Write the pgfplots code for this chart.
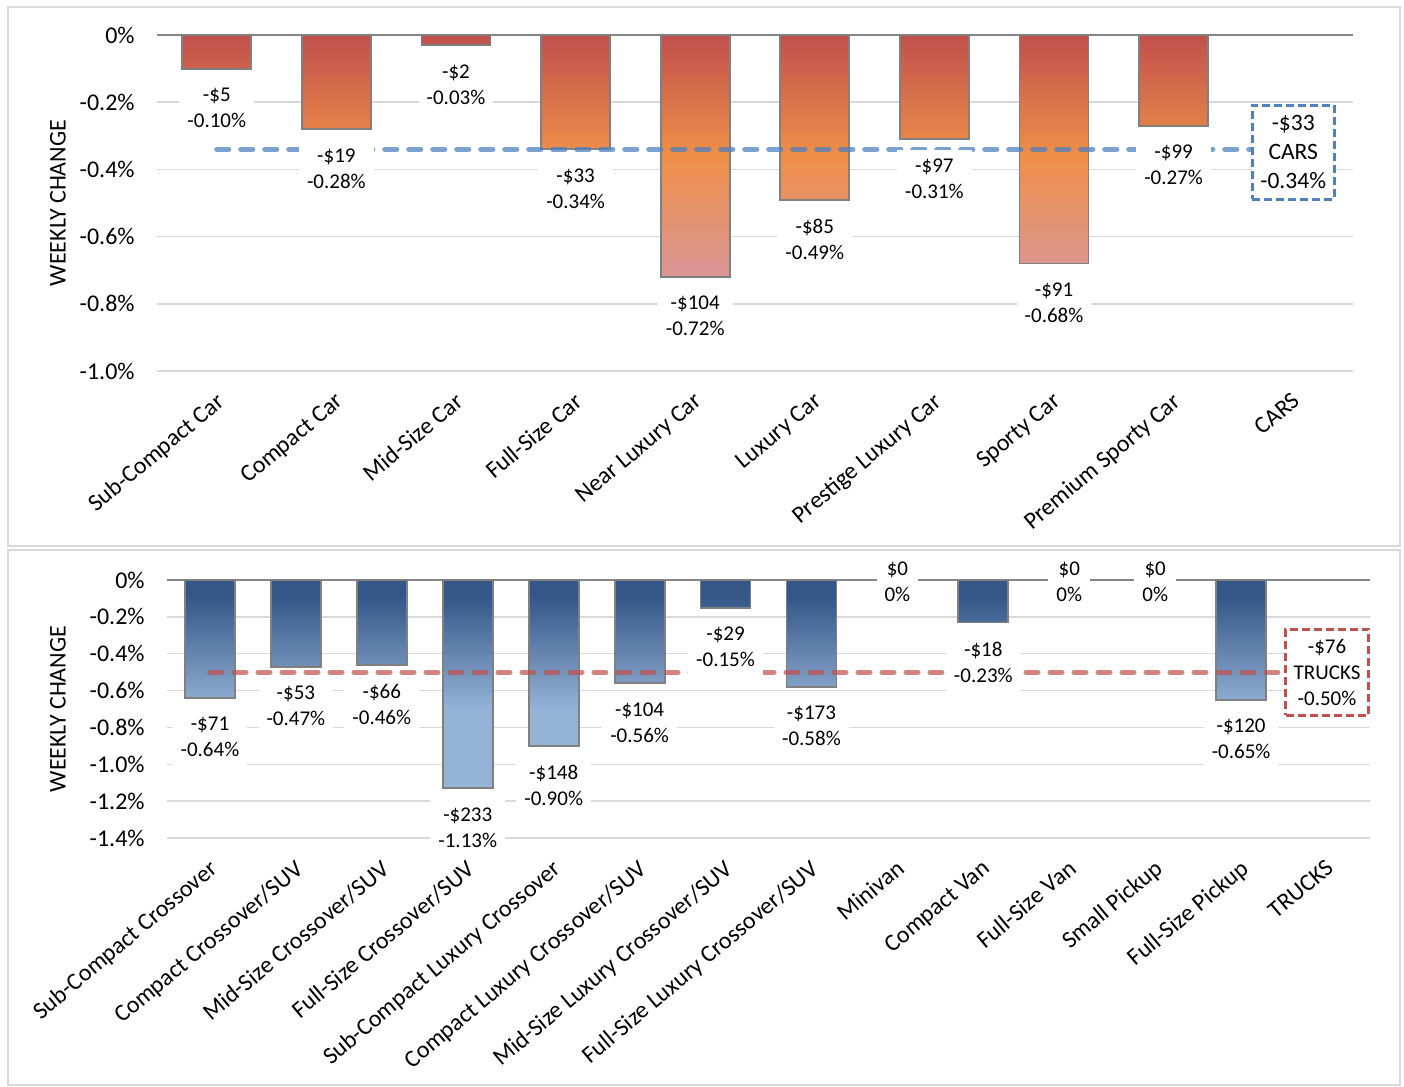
\documentclass[border=0pt]{standalone}
\usepackage{fontspec}
\setmainfont{Carlito}
\usepackage{pgfplots}
\pgfplotsset{compat=1.18}
\definecolor{carTop}{RGB}{192,80,77}
\definecolor{carMid}{RGB}{240,143,72}
\definecolor{carBot}{RGB}{217,150,150}
\definecolor{trkTop}{RGB}{52,87,136}
\definecolor{trkBot}{RGB}{149,179,215}
\definecolor{gridgray}{RGB}{217,217,217}
\definecolor{zerogray}{RGB}{134,134,134}
\definecolor{bargray}{RGB}{128,128,128}
\definecolor{framegray}{RGB}{217,217,217}
\definecolor{carline}{RGB}{79,129,189}
\definecolor{trkline}{RGB}{192,80,77}
\pgfdeclareverticalshading{trkshade}{100bp}{color(0bp)=(trkBot); color(25bp)=(trkBot); color(44bp)=(trkBot); color(71bp)=(trkTop); color(75bp)=(trkTop); color(100bp)=(trkTop)}
\newcommand{\tickfont}{\fontsize{12}{14.4}\selectfont}
\newcommand{\labfont}{\fontsize{10.5}{13}\selectfont}
\pgfplotsset{
  panel/.style={
    scale only axis, clip=false, enlargelimits=false,
    axis line style={draw=none}, tick style={draw=none},
    ymajorgrids, major grid style={gridgray, line width=0.75pt},
    extra y ticks={0}, extra y tick labels={0\%},
    extra y tick style={major grid style={zerogray, line width=0.8pt}},
    ticklabel style={font=\tickfont, text=black},
    yticklabel style={inner sep=0pt, xshift=-11pt},
    xticklabel style={inner sep=0pt, xshift=-1pt, yshift=-10pt, rotate=40, anchor=north east},
    ylabel={WEEKLY CHANGE},
  },
  barlab/.style={draw=none, mark=none, nodes near coords, point meta=explicit symbolic,
    every node near coord/.style={font=\labfont, text=black, align=center, fill=white,
      inner xsep=4pt, inner ysep=4.5pt, anchor=north, yshift=-5pt}},
  zerolab/.style={draw=none, mark=none, nodes near coords, point meta=explicit symbolic,
    every node near coord/.style={font=\labfont, text=black, align=center, fill=white,
      inner xsep=4pt, inner ysep=2pt, anchor=center, yshift=-1pt}},
}
\begin{document}
\begin{tikzpicture}[x=1pt,y=1pt]
\useasboundingbox (0,0) rectangle (702,-543.5);
\draw[framegray, line width=1pt] (4,-3.5) rectangle (700,-273);
\draw[framegray, line width=1pt] (4,-275) rectangle (700,-542.5);

% ---------------- CARS ----------------
\begin{axis}[panel,
  at={(78.5pt,-185.5pt)}, anchor=south west,
  width=598pt, height=168pt,
  xmin=-0.5, xmax=9.5, ymin=-1, ymax=0,
  ytick={-1,-0.8,-0.6,-0.4,-0.2},
  yticklabels={-1.0\%,-0.8\%,-0.6\%,-0.4\%,-0.2\%},
  xtick={0,...,9},
  xticklabels={Sub-Compact Car,Compact Car,Mid-Size Car,Full-Size Car,Near Luxury Car,Luxury Car,Prestige Luxury Car,Sporty Car,Premium Sporty Car,CARS},
  ylabel style={at={(axis description cs:-0.0828,0.5)}, anchor=center, font=\tickfont},
]
\addplot[ybar, bar width=34.5pt, draw=bargray, line width=0.9pt,
  top color=carTop, bottom color=carBot, middle color=carMid]
  coordinates {(0,-0.10) (1,-0.28) (2,-0.03) (3,-0.34) (4,-0.72) (5,-0.49) (6,-0.31) (7,-0.68) (8,-0.27)};
\addplot[carline, opacity=0.75, line width=2.6pt, line cap=round, dash pattern=on 6pt off 6pt, mark=none]
  coordinates {(0,-0.34) (1,-0.34) (2,-0.34) (3,-0.34) (4,-0.34) (5,-0.34) (6,-0.34) (7,-0.34) (8,-0.34) (9,-0.34)};
\addplot[barlab] coordinates {
  (0,-0.10) [{-\$5\\-0.10\%}]
  (1,-0.28) [{-\$19\\-0.28\%}]
  (2,-0.03) [{-\$2\\-0.03\%}]
  (3,-0.34) [{-\$33\\-0.34\%}]
  (4,-0.72) [{-\$104\\-0.72\%}]
  (5,-0.49) [{-\$85\\-0.49\%}]
  (6,-0.31) [{-\$97\\-0.31\%}]
  (7,-0.68) [{-\$91\\-0.68\%}]
  (8,-0.27) [{-\$99\\-0.27\%}]
};
\addplot[draw=none, mark=none, nodes near coords, point meta=explicit symbolic,
  every node near coord/.style={font=\fontsize{11.75}{14.5}\selectfont, text=black, align=center,
    fill=white, draw=carline, line width=1.5pt, dash pattern=on 4pt off 2pt,
    minimum width=41pt, minimum height=47pt, inner sep=0pt, anchor=center, yshift=-1.5pt}]
  coordinates {(9,-0.34) [{-\$33\\CARS\\-0.34\%}]};
\end{axis}

% ---------------- TRUCKS ----------------
\begin{axis}[panel,
  at={(83.5pt,-419pt)}, anchor=south west,
  width=601.5pt, height=129pt,
  xmin=-0.5, xmax=13.5, ymin=-1.4, ymax=0,
  ytick={-1.4,-1.2,-1,-0.8,-0.6,-0.4,-0.2},
  yticklabels={-1.4\%,-1.2\%,-1.0\%,-0.8\%,-0.6\%,-0.4\%,-0.2\%},
  xtick={0,...,13},
  xticklabels={Sub-Compact Crossover,Compact Crossover/SUV,Mid-Size Crossover/SUV,Full-Size Crossover/SUV,Sub-Compact Luxury Crossover,Compact Luxury Crossover/SUV,Mid-Size Luxury Crossover/SUV,Full-Size Luxury Crossover/SUV,Minivan,Compact Van,Full-Size Van,Small Pickup,Full-Size Pickup,TRUCKS},
  ylabel style={at={(axis description cs:-0.0906,0.5)}, anchor=center, font=\tickfont},
]
\addplot[ybar, bar width=25pt, draw=bargray, line width=0.9pt, shade, shading=trkshade]
  coordinates {(0,-0.64) (1,-0.47) (2,-0.46) (3,-1.13) (4,-0.90) (5,-0.56) (6,-0.15) (7,-0.58) (9,-0.23) (12,-0.65)};
\addplot[trkline, opacity=0.7, line width=2.5pt, line cap=round, dash pattern=on 6pt off 6pt, mark=none]
  coordinates {(0,-0.50) (1,-0.50) (2,-0.50) (3,-0.50) (4,-0.50) (5,-0.50) (6,-0.50) (7,-0.50) (8,-0.50) (9,-0.50) (10,-0.50) (11,-0.50) (12,-0.50) (13,-0.50)};
\addplot[barlab] coordinates {
  (0,-0.64) [{-\$71\\-0.64\%}]
  (1,-0.47) [{-\$53\\-0.47\%}]
  (2,-0.46) [{-\$66\\-0.46\%}]
  (3,-1.13) [{-\$233\\-1.13\%}]
  (4,-0.90) [{-\$148\\-0.90\%}]
  (5,-0.56) [{-\$104\\-0.56\%}]
  (6,-0.15) [{-\$29\\-0.15\%}]
  (7,-0.58) [{-\$173\\-0.58\%}]
  (9,-0.23) [{-\$18\\-0.23\%}]
  (12,-0.65) [{-\$120\\-0.65\%}]
};
\addplot[zerolab] coordinates {
  (8,0) [{\$0\\0\%}]
  (10,0) [{\$0\\0\%}]
  (11,0) [{\$0\\0\%}]
};
\addplot[draw=none, mark=none, nodes near coords, point meta=explicit symbolic,
  every node near coord/.style={font=\labfont, text=black, align=center,
    fill=white, draw=trkline, line width=1.5pt, dash pattern=on 4pt off 2pt,
    minimum width=41.5pt, minimum height=43pt, inner sep=0pt, anchor=center}]
  coordinates {(13,-0.50) [{-\$76\\TRUCKS\\-0.50\%}]};
\end{axis}
\end{tikzpicture}
\end{document}
